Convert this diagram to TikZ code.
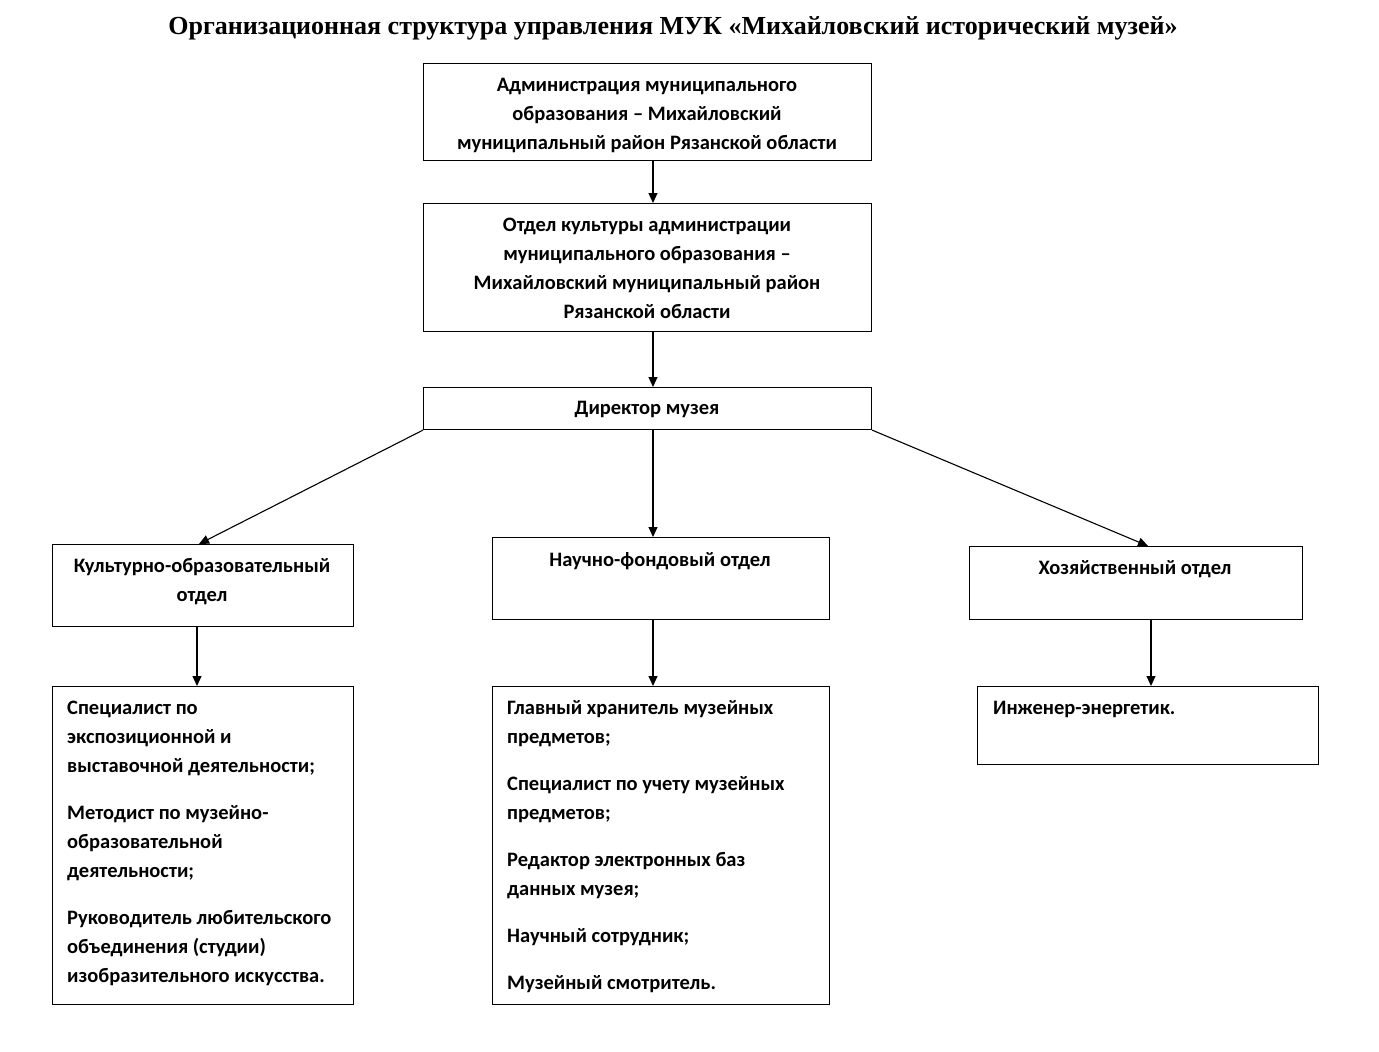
\documentclass[tikz,border=0pt]{standalone}
\usepackage{fontspec}
\setmainfont{Carlito}
\newfontfamily\titlefont{Liberation Serif}
\usetikzlibrary{arrows.meta}
\begin{document}
\begin{tikzpicture}[x=1pt,y=-1pt,
  box/.style={draw=black,line width=1.1pt,rectangle,inner sep=0pt,anchor=north west},
  txt/.style={font=\fontsize{20.5}{29}\selectfont\bfseries,inner sep=0pt,align=center},
  ltxt/.style={font=\fontsize{20.5}{29}\selectfont\bfseries,inner sep=0pt,align=left,anchor=west},
  conn/.style={draw=black,line width=1.1pt,-{Triangle[length=10pt,width=9pt]}}]
\useasboundingbox[fill=white] (0,0) rectangle (1379,1052);
\node[font=\titlefont\fontsize{26}{30}\selectfont\bfseries,inner sep=0pt] (title) at (673,28)
  {Организационная структура управления МУК «Михайловский исторический музей»};
% boxes
\node[box,minimum width=448pt,minimum height=97pt] (b1) at (423,63) {};
\node[box,minimum width=448pt,minimum height=128pt] (b2) at (423,203) {};
\node[box,minimum width=448pt,minimum height=42pt] (b3) at (423,387) {};
\node[box,minimum width=301pt,minimum height=82pt] (ko) at (52,544) {};
\node[box,minimum width=337pt,minimum height=82pt] (nf) at (492,537) {};
\node[box,minimum width=333pt,minimum height=73pt] (hz) at (969,546) {};
\node[box,minimum width=301pt,minimum height=318pt] (kol) at (52,686) {};
\node[box,minimum width=337pt,minimum height=318pt] (nfl) at (492,686) {};
\node[box,minimum width=341pt,minimum height=78pt] (hzl) at (977,686) {};
% texts
\node[txt] (t1) at (647,115.5) {Администрация муниципального\\образования – Михайловский\\муниципальный район Рязанской области};
\node[txt] (t2) at (647,268) {Отдел культуры администрации\\муниципального образования –\\Михайловский муниципальный район\\Рязанской области};
\node[txt] (t3) at (647,409) {Директор музея};
\node[txt] (tko) at (202,582) {Культурно-образовательный\\отдел};
\node[txt] (tnf) at (660,561) {Научно-фондовый отдел};
\node[txt] (thz) at (1135,569) {Хозяйственный отдел};
\node[ltxt] (thzl) at (993,709) {Инженер-энергетик.};
\node[ltxt] (tkol) at (67,843) {Специалист по\\экспозиционной и\\выставочной деятельности;\\[18pt]Методист по музейно-\\образовательной\\деятельности;\\[18pt]Руководитель любительского\\объединения (студии)\\изобразительного искусства.};
\node[ltxt] (tnfl) at (507,847) {Главный хранитель музейных\\предметов;\\[18pt]Специалист по учету музейных\\предметов;\\[18pt]Редактор электронных баз\\данных музея;\\[18pt]Научный сотрудник;\\[18pt]Музейный смотритель.};
% connectors
\draw[conn] (b1.south -| 653,0) -- (b2.north -| 653,0);
\draw[conn] (b2.south -| 653,0) -- (b3.north -| 653,0);
\draw[conn] (b3.south -| 653,0) -- (nf.north -| 653,0);
\draw[conn] (b3.south west) -- (ko.north -| 199,0);
\draw[conn] (b3.south east) -- (hz.north -| 1148,0);
\draw[conn] (ko.south -| 197,0) -- (kol.north -| 197,0);
\draw[conn] (nf.south -| 653,0) -- (nfl.north -| 653,0);
\draw[conn] (hz.south -| 1151,0) -- (hzl.north -| 1151,0);
\end{tikzpicture}
\end{document}
